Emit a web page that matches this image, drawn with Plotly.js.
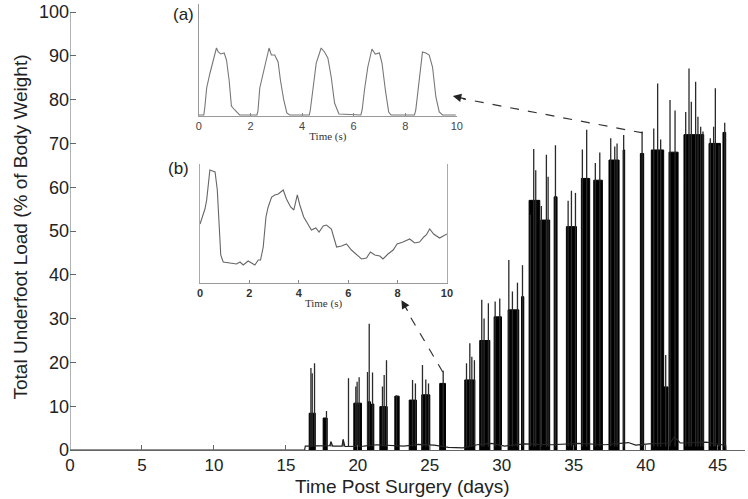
<!DOCTYPE html>
<html>
<head>
<meta charset="utf-8">
<script src="https://cdn.plot.ly/plotly-3.0.1.min.js"></script>
<style>
  html, body { margin: 0; padding: 0; background: #fff; }
  #chart { width: 748px; height: 499px; }
</style>
</head>
<body>
<div id="chart"></div>
<script>
// main record: spikes (day, % body weight)
var spikeDay = [16.74,16.83,16.99,17.82,18.13,18.98,19.35,19.86,19.95,20.09,20.67,20.79,21.02,21.71,21.83,21.99,22.69,23.80,24.00,24.49,24.72,24.91,25.93,
  27.55,27.78,27.92,28.10,28.61,28.77,29.07,29.54,29.86,30.49,30.74,31.09,31.44,31.99,32.22,32.36,32.75,33.10,33.22,33.73,34.61,34.84,35.12,35.60,35.90,
  36.50,36.81,37.57,37.85,38.01,38.47,39.75,40.56,40.83,41.04,41.39,41.69,42.04,42.78,43.01,43.17,43.47,43.63,43.82,43.98,44.49,44.72,44.84,45.09,45.49];
var spikeLoad = [18.7,17.5,19.8,8.9,1.9,2.4,16.4,14.5,15.6,16.6,17.8,28.8,17.7,14.5,17.1,20.5,12.5,16.0,15.2,19.4,16.1,15.2,18.1,
  19.8,24.4,21.3,20.5,34.3,30.0,33.5,33.9,34.6,43.4,36.2,38.2,42.2,53.7,68.7,63.9,55.7,67.4,62.4,69.6,56.9,59.2,58.7,68.6,73.1,
  65.5,67.9,71.2,69.3,70.0,71.9,72.7,73.4,83.7,70.9,21.7,79.9,77.5,77.2,87.1,79.5,84.1,76.1,73.8,72.7,71.2,73.8,82.6,69.6,74.7];

// dense activity bouts (start day, end day, level)
var blockStart = [16.62,17.59,19.72,20.67,20.95,21.53,22.57,23.57,24.44,25.69,27.43,28.47,29.47,30.44,31.37,31.90,32.71,33.64,34.49,35.53,36.39,37.45,38.43,39.63,40.39,41.09,41.62,42.66,44.40,45.37];
var blockEnd   = [17.04,17.87,20.25,20.88,21.11,22.04,22.87,24.07,25.00,26.09,28.13,29.17,29.98,31.18,31.53,32.64,33.33,33.84,35.19,36.11,36.99,38.15,38.54,39.86,41.25,41.55,42.25,44.03,45.19,45.56];
var blockTop   = [8.4,7.3,10.7,11.0,10.5,9.9,12.3,11.4,12.6,15.2,16.0,25.0,30.4,32.0,35.0,57.0,52.5,57.8,51.0,62.0,61.6,66.2,68.5,67.7,68.5,14.4,68.0,72.0,70.0,72.5];

// resting baseline
var baseDay  = [0,16.3,16.35,17.3,18.05,18.13,18.25,18.9,18.98,19.1,20.4,21.3,22.3,23.2,24.2,25.3,26.3,27.3,28.3,29.3,30.2,31.6,33.5,35.3,37.2,38.8,39.3,40.2,41.7,42.0,42.4,44.2,45.3,45.56,45.57];
var baseLoad = [0,0,0.9,1.0,1.0,1.9,0.9,0.9,2.4,0.8,0.9,1.2,1.0,0.9,1.3,1.1,0.6,0.5,1.2,1.5,0.9,1.4,1.2,1.5,1.2,1.7,1.1,1.4,1.6,3.0,1.6,1.8,1.2,1.0,0];

// inset (a)
var aTime = [0,0.19,0.23,0.30,0.43,0.55,0.68,0.75,0.85,0.98,1.07,1.17,1.26,1.39,1.58,
  2.25,2.29,2.36,2.51,2.72,2.81,2.94,3.07,3.16,3.29,3.41,3.52,
  4.28,4.32,4.42,4.55,4.74,4.87,5.00,5.13,5.26,5.43,
  6.28,6.33,6.42,6.55,6.71,6.84,7.00,7.10,7.23,7.36,7.45,
  8.36,8.41,8.52,8.67,8.80,8.93,9.06,9.19,9.32,9.45,9.96];
var aLoad = [1,1,9,28,43,54,68,64,62,63,56,36,10,6,1,
  1,5,28,46,68,61,61,54,36,16,3,1,
  1,6,29,53,68,64,58,39,13,2,
  1,6,26,49,67,62,63,53,26,4,1,
  1,6,33,64,63,61,49,19,4,1,1];

// inset (b)
var bTime = [0,0.2,0.27,0.34,0.40,0.51,0.61,0.70,0.77,0.84,0.94,1.21,1.48,1.62,1.75,1.95,2.22,2.36,2.45,2.56,2.67,2.76,2.90,3.03,3.17,3.37,3.50,3.67,3.80,3.94,
  4.04,4.20,4.38,4.51,4.69,4.82,4.99,5.12,5.32,5.53,5.73,5.93,6.13,6.33,6.54,6.74,6.90,7.08,7.28,7.41,7.61,7.82,7.98,8.22,8.49,8.69,8.89,9.06,9.16,9.30,9.46,9.70,10];
var bLoad = [59,74,83,103,113,112,111,93,56,28,21,20,19,21,18,22,18,23,23,36,66,76,86,88,89,93,84,76,73,88,
  78,66,58,53,55,51,57,58,54,36,37,39,33,29,24,25,31,28,27,24,29,33,39,41,44,40,41,46,48,54,49,45,49];

var xTicks = [0,5,10,15,20,25,30,35,40,45];

// bouts as filled polygons, spikes as vertical strokes
var px = [], py = [];
for (var k = 0; k < blockStart.length; k++) {
  px.push(blockStart[k], blockStart[k], blockEnd[k], blockEnd[k], blockStart[k], null);
  py.push(0, blockTop[k], blockTop[k], 0, 0, null);
}
var sx = [], sy = [];
for (var j = 0; j < spikeDay.length; j++) {
  sx.push(spikeDay[j], spikeDay[j], null);
  sy.push(0.8, spikeLoad[j], null);
}

var data = [
  {type: 'scatter', mode: 'lines', x: px, y: py, fill: 'toself', fillcolor: '#000',
   line: {color: '#000', width: 1}, xaxis: 'x', yaxis: 'y', hoverinfo: 'skip'},
  {type: 'scatter', mode: 'lines', x: sx, y: sy, line: {color: '#2a2a2a', width: 1.3},
   xaxis: 'x', yaxis: 'y', hoverinfo: 'skip'},
  {type: 'scatter', mode: 'lines', x: baseDay, y: baseLoad, line: {color: '#222', width: 1.2},
   xaxis: 'x', yaxis: 'y', hoverinfo: 'skip'},
  {type: 'scatter', mode: 'lines', x: aTime, y: aLoad, line: {color: '#777', width: 1.1},
   xaxis: 'x2', yaxis: 'y2', hoverinfo: 'skip'},
  {type: 'scatter', mode: 'lines', x: bTime, y: bLoad, line: {color: '#666', width: 1.1},
   xaxis: 'x3', yaxis: 'y3', hoverinfo: 'skip'}
];

var fam = 'Arial, "Liberation Sans", sans-serif';
var serif = {family: '"Liberation Serif", "Times New Roman", serif', size: 11, color: '#333'};

var layout = {
  width: 748, height: 499,
  margin: {l: 70, r: 3, t: 4, b: 49},
  paper_bgcolor: '#fff', plot_bgcolor: 'rgba(0,0,0,0)',
  showlegend: false,
  font: {family: fam, size: 17, color: '#222'},
  xaxis: {
    domain: [0, 1], range: [0, 46.9], tickvals: xTicks,
    ticks: 'inside', ticklen: 5, tickcolor: '#666',
    showline: true, linecolor: '#666', linewidth: 1,
    showgrid: false, zeroline: false, tickfont: {family: fam, size: 17, color: '#222'}
  },
  yaxis: {
    domain: [0, 1], range: [0, 101.83], tickvals: [0,10,20,30,40,50,60,70,80,90,100],
    ticks: 'inside', ticklen: 6, tickcolor: '#666',
    showline: false, showgrid: false, zeroline: false,
    tickfont: {family: fam, size: 18, color: '#222'},
    title: {text: 'Total Underfoot Load (% of Body Weight)', font: {family: fam, size: 19, color: '#222'}, standoff: 6}
  },
  xaxis2: {
    domain: [0.191, 0.573], anchor: 'y2', range: [0, 10], dtick: 2,
    ticks: 'inside', ticklen: 3, tickcolor: '#888',
    showline: true, linecolor: '#999', linewidth: 1,
    showgrid: false, zeroline: false,
    tickfont: {family: fam, size: 11, color: '#444'},
    title: {text: 'Time (s)', font: serif, standoff: 1}
  },
  yaxis2: {
    domain: [0.7489, 1], anchor: 'x2', range: [0, 112],
    showline: true, linecolor: '#999', linewidth: 1,
    showticklabels: false, ticks: '', showgrid: false, zeroline: false
  },
  xaxis3: {
    domain: [0.1926, 0.5585], anchor: 'y3', range: [0, 10], dtick: 2,
    ticks: 'inside', ticklen: 3, tickcolor: '#888',
    showline: true, linecolor: '#999', linewidth: 1,
    showgrid: false, zeroline: false,
    tickfont: {family: fam, size: 11, color: '#333', weight: 'bold'},
    title: {text: 'Time (s)', font: serif, standoff: 1}
  },
  yaxis3: {
    domain: [0.3744, 0.6413], anchor: 'x3', range: [0, 119],
    showline: true, mirror: true, linecolor: '#aaa', linewidth: 1,
    showticklabels: false, ticks: '', showgrid: false, zeroline: false
  },
  shapes: [
    {type: 'line', xref: 'x', yref: 'y', x0: 0, y0: 0, x1: 0, y1: 100,
     line: {color: '#666', width: 1}},
    {type: 'line', xref: 'x', yref: 'y', x0: 39.8, y0: 72.4, x1: 27.3, y1: 80.2,
     line: {color: '#333', width: 1.2, dash: 'dash'}},
    {type: 'line', xref: 'x', yref: 'y', x0: 25.9, y0: 17.8, x1: 23.4, y1: 31.8,
     line: {color: '#333', width: 1.2, dash: 'dash'}}
  ],
  annotations: [
    {xref: 'x', yref: 'y', x: 26.6, y: 80.8, ax: 14, ay: 3, text: '', showarrow: true,
     arrowhead: 2, arrowsize: 1.4, arrowwidth: 1.2, arrowcolor: '#222'},
    {xref: 'x', yref: 'y', x: 23.03, y: 34.2, ax: 7, ay: 12, text: '', showarrow: true,
     arrowhead: 2, arrowsize: 1.4, arrowwidth: 1.2, arrowcolor: '#222'},
    {xref: 'paper', yref: 'paper', x: (183 - 70) / 675, y: (450 - 15) / 446, text: '(a)',
     xanchor: 'center', yanchor: 'middle',
     showarrow: false, font: {family: fam, size: 17, color: '#222'}},
    {xref: 'paper', yref: 'paper', x: (178 - 70) / 675, y: (450 - 169) / 446, text: '(b)',
     xanchor: 'center', yanchor: 'middle',
     showarrow: false, font: {family: fam, size: 17, color: '#222'}},
    {xref: 'paper', yref: 'paper', x: (402 - 70) / 675, y: (450 - 487) / 446, text: 'Time Post Surgery (days)',
     xanchor: 'center', yanchor: 'middle',
     showarrow: false, font: {family: fam, size: 19, color: '#222'}}
  ]
};

Plotly.newPlot('chart', data, layout, {staticPlot: true, displayModeBar: false});
</script>
</body>
</html>
